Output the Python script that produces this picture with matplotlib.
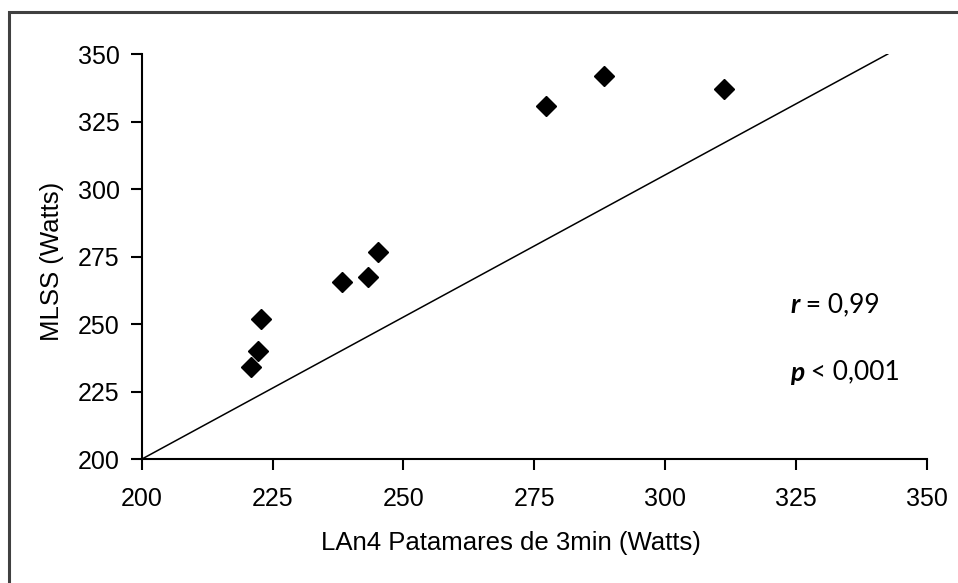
import matplotlib.pyplot as plt
from matplotlib.patches import Rectangle

# LAn4 (3 min stages) vs MLSS, watts
lan4 = [220.9, 222.1, 222.8, 238.2, 243.2, 245.1, 277.3, 288.4, 311.2]
mlss = [234.2, 240.1, 252.0, 265.4, 267.5, 276.5, 330.7, 342.0, 337.0]

# reference line as drawn in the original
line_x = [200, 342.6]
line_y = [200, 350]

ticks = [200, 225, 250, 275, 300, 325, 350]

plt.rcParams['font.family'] = ['Liberation Sans', 'DejaVu Sans']

W, H = 958, 583
fig = plt.figure(figsize=(W / 100, H / 100), dpi=100)
ax = fig.add_axes([142 / W, 1 - 459 / H, (926.5 - 142) / W, (459 - 54) / H])

# outer chart frame (runs off right and bottom edges)
fig.patches.append(Rectangle((8.5 / W, -0.05), 1.1, 1 - 12.5 / H + 0.05,
                             transform=fig.transFigure, fill=False,
                             edgecolor='#404040', linewidth=2.2))

ax.plot(line_x, line_y, color='black', linewidth=1.1)
ax.plot(lan4, mlss, linestyle='none', marker='D', markersize=10.5,
        color='black', clip_on=False)

ax.set_xlim(200, 350)
ax.set_ylim(200, 350)
ax.set_xticks(ticks)
ax.set_yticks(ticks)
ax.tick_params(direction='out', length=8, width=1.5, labelsize=18,
               colors='black')
ax.tick_params(axis='y', pad=8)
ax.tick_params(axis='x', pad=12)
ax.spines['top'].set_visible(False)
ax.spines['right'].set_visible(False)
for s in ['left', 'bottom']:
    ax.spines[s].set_linewidth(1.5)

fig.text(511 / W, 1 - 543 / H, 'LAn4 Patamares de 3min (Watts)',
         ha='center', va='center', fontsize=18.5)
fig.text(52 / W, 1 - 261 / H, 'MLSS (Watts)', rotation=90,
         ha='center', va='center', fontsize=18.5)

fam = ['Lato', 'DejaVu Sans']
t1 = ax.text(0.826, 0.38, 'r', transform=ax.transAxes, fontsize=19,
             fontweight='bold', style='italic', family=fam, va='center')
ax.annotate(' = 0,99', xy=(1, 0), xycoords=t1, va='bottom', fontsize=19,
            family=fam)
t2 = ax.text(0.826, 0.213, 'p', transform=ax.transAxes, fontsize=19,
             fontweight='bold', style='italic', family=fam, va='center')
ax.annotate(' < 0,001', xy=(1, 0), xycoords=t2, va='bottom', fontsize=19,
            family=fam)

fig.savefig('out.png', dpi=100)
